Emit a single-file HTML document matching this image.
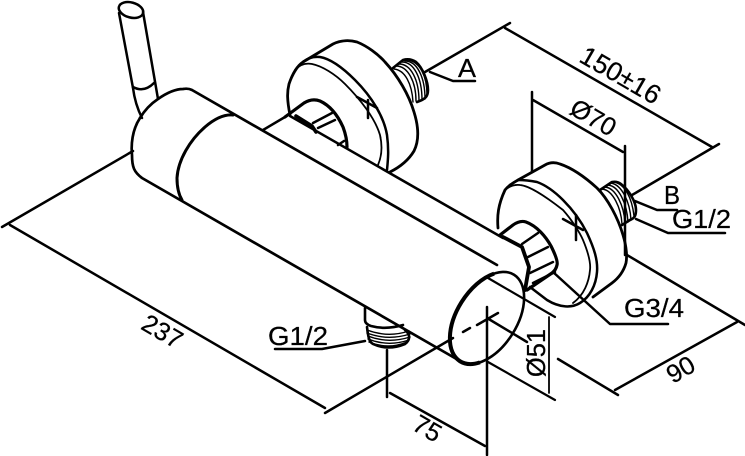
<!DOCTYPE html>
<html><head><meta charset="utf-8"><style>
html,body{margin:0;padding:0;background:#fff}
svg{display:block}
text{font-family:"Liberation Sans",Arial,sans-serif;font-size:25.5px;fill:#000;stroke:#000;stroke-width:.25}
</style></head><body>
<svg width="745" height="456" viewBox="0 0 745 456" xmlns="http://www.w3.org/2000/svg">
<g fill="none" stroke="#000" stroke-width="2.5" stroke-linecap="round" stroke-linejoin="round">
<!-- handle -->
<ellipse cx="131" cy="10" rx="12.5" ry="7.5" transform="rotate(15 131 10)"/>
<path d="M119 13L133 88Q135 104 142 118"/>
<path d="M143 12L158 99"/>
<path d="M133 87Q144 93 154 83"/>
<!-- body -->
<path d="M140 118C146 108 152 103 158 99C168 92 176 89 183 89Q188 88 192 90L497 265" stroke-width="2.7"/>
<path d="M140 118C132 130 131 145 132 155C132 167 134 172 142 178L460 361" stroke-width="2.7"/>
<path d="M233 115C222 114 212 121 205 127C190 140 178 160 177 178C177 187 179 195 182 200" stroke-width="3"/>
<path d="M263 130L285 117"/>
<path d="M290 116L503 238"/>
<!-- rear plate -->
<path d="M290 115C287 100 287 92 289 84C292 75 297 66 303 62L333 44C341 40 350 40 357 42C367 46 378 54 385 62C398 76 409 95 414 112C419 128 419 141 414 151C408 161 398 168 390 172" stroke-width="2.8"/>
<path d="M303 62Q310 56 320 57C332 59 345 70 355 80C372 97 384 117 387 135C389 150 388 160 387 170"/>
<path d="M295 70Q302 62 312 64C322 66 335 74 345 84C360 99 375 118 380 135C383 148 381 158 378 165" stroke-width="1.8"/>
<path d="M357 97L377 108M368 100V118"/>
<!-- rear nut -->
<path d="M285 117L304 103Q312 98 320 101C331 106 338 116 343 127C346 135 347 140 347 147" stroke-width="3.2"/>
<path d="M296 116L312 126L316 132" stroke-width="3.6"/>
<path d="M313 123L332 113M318 128L335 120M338 145L344 141"/>
<!-- rear thread -->
<path d="M393 68L403 60Q410 58 416 62C423 68 428 82 428 90C428 96 426 99 417 102" stroke-width="2.6"/>
<g stroke-width="1.4">
<path d="M396 66C408 66 416 82 416 101"/><path d="M399 64C411 64 419 80 419 101"/><path d="M402 62C414 62 422 78 422 100"/><path d="M405 61C417 61 425 77 425 99"/><path d="M408 60C420 62 427 76 427 95"/><path d="M394 69C405 70 412 84 413 102"/>
</g>
<!-- front plate -->
<path d="M498 228C497 216 498 205 505 190C509 185 513 183 518 180L545 165Q552 161 560 164C572 168 586 178 597 188C608 199 618 218 623 235C627 248 627 258 626 263C624 270 620 277 612 283L593 297" stroke-width="2.8"/>
<path d="M518 180Q527 180 537 182C548 186 556 193 563 200C575 212 583 225 587 233C594 248 598 260 597 272C596 285 590 297 580 303C572 308 560 308 547 300L530 287"/>
<path d="M505 190Q512 184 520 185C530 186 545 196 563 210C572 220 580 233 583 240C588 252 591 262 590 270C589 282 584 295 573 303" stroke-width="1.8"/>
<path d="M563 219L583 230M576 215V240"/>
<!-- front nut -->
<path d="M500 235L513 225Q520 220 526 222C537 226 546 237 551 246C555 254 558 262 557 265Q556 270 552 273L527 290" stroke-width="3.2"/>
<path d="M503 237L522 247L529 267L525 290" stroke-width="3.8"/>
<path d="M522 244L538 233M528 257L548 247M530 273L553 262M533 283L555 272"/>
<!-- front thread -->
<path d="M600 190L612 182Q617 181 621 184C629 190 636 202 636 210C636 215 635 218 630 220L622 225" stroke-width="2.6"/>
<g stroke-width="1.4">
<path d="M602 189C613 190 621 208 622 224"/><path d="M605 187C616 188 624 206 625 223"/><path d="M608 185C619 186 627 204 628 222"/><path d="M611 183C622 185 630 202 631 220"/><path d="M614 182C625 184 632 198 634 216"/>
</g>
<!-- bottom fitting -->
<path d="M365 308V320Q365 324 371 326Q386 330 403 325" stroke-width="2.6"/>
<path d="M367 327C368 336 369 342 373 344Q388 351 405 344C410 340 411 335 405 330" stroke-width="2.6"/>
<g stroke-width="1.4">
<path d="M367 330Q388 338 409 331"/><path d="M367 333Q388 341 410 334"/><path d="M368 336Q388 344 410 337"/><path d="M368 339Q388 347 409 340"/><path d="M369 342Q388 350 407 342"/>
</g>
<!-- end cap -->
<ellipse cx="487" cy="318" rx="51" ry="30" transform="rotate(-58 487 318)" stroke-width="2.6"/>
<ellipse cx="487" cy="318" rx="51" ry="30" transform="rotate(-58 487 318)" stroke-width="4" pathLength="100" stroke-dasharray="0 42 50 8" stroke-linecap="butt"/>
<!-- centre lines -->
<path d="M325 413L453 338M463 332L470 328M477 325L498 313M487 318L527 342M487 307V455"/>
<!-- dims -->
<path d="M10 225L325 408M2 227L133 151"/>
<path d="M387 350V397M390 393L485 446"/>
<path d="M488 278L555 317M488 362L555 400" stroke-width="2.2"/>
<path d="M549 317V393" stroke-width="1.8"/>
<path d="M558 359L618 395M615 390L737 322M627 255L745 325"/>
<path d="M425 72L510 23M505 28L712 147M719 144L632 195"/>
<path d="M532 92V172M625 146V255M533 100L623 152"/>
<!-- leaders -->
<path d="M430 72L453 81H475"/>
<path d="M635 201L657 210H677"/>
<path d="M636 219L668 233H725"/>
<path d="M553 272L610 324H668"/>
<path d="M275 349H322L365 341"/>
</g>
<text x="458" y="77" textLength="18" lengthAdjust="spacingAndGlyphs">A</text>
<text x="664" y="204" textLength="16" lengthAdjust="spacingAndGlyphs">B</text>
<text x="672" y="228" textLength="59" lengthAdjust="spacingAndGlyphs">G1/2</text>
<text x="624" y="317" textLength="60" lengthAdjust="spacingAndGlyphs">G3/4</text>
<text x="268" y="345" textLength="60" lengthAdjust="spacingAndGlyphs">G1/2</text>
<text text-anchor="middle" transform="translate(158 339) rotate(30)">237</text>
<text text-anchor="middle" transform="translate(423 436) rotate(30)">75</text>
<text text-anchor="middle" transform="translate(616 83) rotate(30)" style="font-size:26.5px">150±16</text>
<text text-anchor="middle" transform="translate(589 125) rotate(30)">Ø70</text>
<text text-anchor="middle" transform="translate(685 377) rotate(-30)">90</text>
<text text-anchor="middle" transform="translate(545 353) rotate(-90)">Ø51</text>
</svg>
</body></html>
